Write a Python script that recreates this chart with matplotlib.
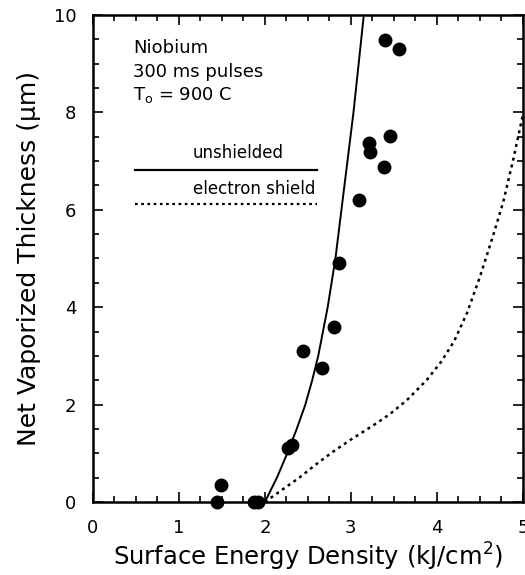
import numpy as np
import matplotlib.pyplot as plt
from matplotlib.ticker import MultipleLocator

plt.rcParams['font.family'] = ['DejaVu Sans']

# measured vaporized thickness
energy = [1.44, 1.49, 1.87, 1.92, 2.27, 2.31, 2.44, 2.66, 2.80, 2.86,
          3.09, 3.21, 3.22, 3.38, 3.45, 3.40, 3.56]
thickness = [0.0, 0.35, 0.0, 0.0, 1.10, 1.17, 3.10, 2.75, 3.59, 4.91,
             6.20, 7.37, 7.19, 6.88, 7.52, 9.49, 9.30]

# model, unshielded surface
unsh_x = [2.00, 2.14, 2.26, 2.37, 2.47, 2.55, 2.62, 2.73, 2.82, 2.89, 2.96, 3.03, 3.09, 3.15]
unsh_y = [0.00, 0.50, 1.00, 1.50, 2.00, 2.50, 3.00, 4.00, 5.00, 6.00, 7.00, 8.00, 9.00, 10.0]

# model, with electron shield
shield_x = [2.00, 2.20, 2.40, 2.60, 2.79, 2.99, 3.15, 3.30, 3.45, 3.65,
            3.88, 4.05, 4.20, 4.35, 4.50, 4.65, 4.77, 4.89, 5.00]
shield_y = [0.00, 0.25, 0.50, 0.78, 1.03, 1.27, 1.45, 1.62, 1.80, 2.09,
            2.50, 2.88, 3.30, 3.88, 4.62, 5.45, 6.15, 7.05, 7.95]


def main():
    fig = plt.figure(figsize=(5.25, 5.75), dpi=100)
    ax = fig.add_axes([0.177, 0.127, 0.819, 0.847])

    ax.plot(unsh_x, unsh_y, color='black', lw=1.4)
    ax.plot(shield_x, shield_y, color='black', lw=1.8, ls=(0, (1.2, 1.6)))
    ax.plot(energy, thickness, 'o', color='black', ms=9, clip_on=False, zorder=5)

    # legend drawn by hand
    ax.plot([0.49, 2.6], [6.82, 6.82], color='black', lw=1.6)
    ax.plot([0.49, 2.6], [6.12, 6.12], color='black', lw=1.6, ls=(0, (1.2, 1.6)))
    ax.text(1.69, 7.17, 'unshielded', ha='center', va='center', fontsize=12)
    ax.text(1.88, 6.42, 'electron shield', ha='center', va='center', fontsize=12)

    ax.text(0.47, 9.32, 'Niobium', fontsize=13, va='center')
    ax.text(0.47, 8.83, '300 ms pulses', fontsize=13, va='center')
    ax.text(0.47, 8.36, r'T$_\mathregular{o}$ = 900 C', fontsize=13, va='center')

    ax.set_xlim(0, 5)
    ax.set_ylim(0, 10)
    ax.xaxis.set_major_locator(MultipleLocator(1))
    ax.xaxis.set_minor_locator(MultipleLocator(0.25))
    ax.yaxis.set_major_locator(MultipleLocator(2))
    ax.yaxis.set_minor_locator(MultipleLocator(0.5))
    ax.tick_params(which='both', direction='in', top=True, right=True,
                   width=1.2, labelsize=13)
    ax.tick_params(which='major', length=7, pad=12)
    ax.tick_params(which='minor', length=4)
    for s in ax.spines.values():
        s.set_linewidth(1.8)

    ax.set_xlabel('Surface Energy Density (kJ/cm$^\\mathregular{2}$)', fontsize=17.5, labelpad=3)
    ax.set_ylabel('Net Vaporized Thickness (μm)', fontsize=18, labelpad=9)

    fig.savefig('out.png', dpi=100)


if __name__ == "__main__":
    main()
